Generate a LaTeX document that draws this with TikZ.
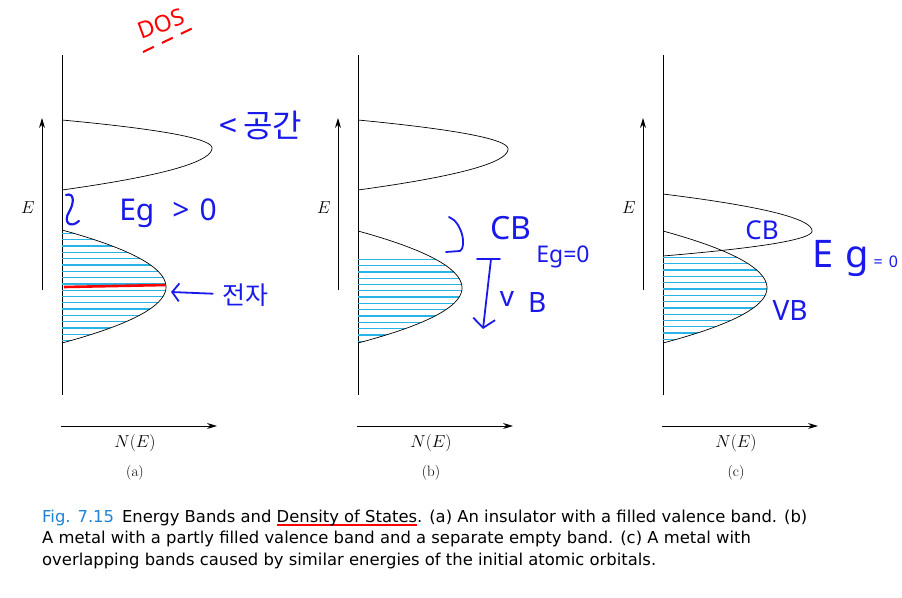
\documentclass[tikz,border=0pt]{standalone}
\usepackage{fontspec}
\usepackage{tikz}
\usetikzlibrary{arrows.meta,positioning}
\newfontfamily\capfont{DejaVu Sans}
\newfontfamily\krfont{Noto Sans CJK KR}
\newfontfamily\handfont{Noto Sans}
\definecolor{handblue}{RGB}{25,25,235}
\definecolor{figblue}{RGB}{30,130,215}
\definecolor{fillcyan}{RGB}{40,180,230}
\newsavebox{\ulbox}
\newcommand{\redul}[1]{\sbox{\ulbox}{#1}\rlap{\color{red}\rule[-3.5pt]{\wd\ulbox}{1.3pt}}\usebox{\ulbox}}
\newcommand{\bandpath}[5]{plot[domain=-1:0,samples=30] ({#1+#5*(1-(\x)*(\x))},{#3+(\x)*(#3-#2)}) -- plot[domain=0:1,samples=30] ({#1+#5*(1-(\x)*(\x))},{#3+(\x)*(#4-#3)})}

\begin{document}
\begin{tikzpicture}[x=1pt,y=-1pt]
        \tikzstyle{every node} = [inner sep=0pt]
        \tikzstyle{axis} = [line width=1pt]
        \tikzstyle{arr} = [axis, -{Stealth[length=10pt,width=6pt]}]
        \tikzstyle{band} = [line width=0.7pt]
        \tikzstyle{level} = [fillcyan, line width=1.3pt]
        \tikzstyle{hand} = [handblue, line width=1.8pt, line cap=round, line join=round]
        \tikzstyle{note} = [handblue, font=\handfont\fontsize{28}{28}\selectfont]
        \tikzstyle{kr} = [handblue, font=\krfont\fontsize{32}{32}\selectfont]
        \tikzstyle{captext} = [anchor=base west, font=\capfont\fontsize{16.4}{16.4}\selectfont]
        \useasboundingbox (0,0) rectangle (902,597);

        \foreach \p/\xo in {a/62, b/358, c/663} {
            \draw[axis] (\xo,55) -- (\xo,395);
            \node[font=\fontsize{17}{17}\selectfont] (\p E) at (\xo-34,208) {$E$};
            \coordinate (\p E0) at (\xo-20,290);
            \coordinate (\p E1) at (\xo-20,118);
            \draw[arr] (\p E0) -- (\p E1);
            \coordinate (\p N0) at (\xo-1,426);
            \coordinate (\p N1) at (\xo+155,426);
            \draw[arr] (\p N0) -- (\p N1);
            \node[font=\fontsize{17}{17}\selectfont] (\p N) at (\xo+73,443) {$N(E)$};
            \node[below=13pt of \p N, font=\fontsize{15}{15}\selectfont] (\p lab) {(\p)};
        }

        \begin{scope}
            \clip \bandpath{62}{230}{287}{343}{104} -- cycle;
            \foreach \y in {233.5,239.8,...,343} \draw[level] (62,\y) -- (170,\y);
        \end{scope}
        \begin{scope}
            \clip \bandpath{358}{231}{288}{343}{104} -- cycle;
            \foreach \y in {259.3,265.6,...,343} \draw[level] (358,\y) -- (466,\y);
        \end{scope}
        \begin{scope}
            \clip \bandpath{663}{231}{288}{343}{104} -- cycle;
            \foreach \y in {257.5,263.8,...,343} \draw[level] (663,\y) -- (771,\y);
        \end{scope}

        \draw[band] \bandpath{62}{120}{148}{190}{150};
        \draw[band] \bandpath{62}{230}{287}{343}{104};
        \draw[band] \bandpath{358}{120}{149}{190}{150};
        \draw[band] \bandpath{358}{231}{288}{343}{104};
        \draw[band] \bandpath{663}{194}{231}{256}{149};
        \draw[band] \bandpath{663}{231}{288}{343}{104};

        \coordinate (r0) at (64,287);
        \coordinate (r1) at (166,285);
        \draw[red, line width=2.6pt] (r0) -- (r1);

        \node[red, rotate=20, font=\handfont\fontsize{23}{23}\selectfont] (dos) at (161,24) {DOS};
        \coordinate (dos0) at (143,52);
        \coordinate (dos1) at (193,28);
        \draw[red, line width=2pt, dash pattern=on 12pt off 9pt] (dos0) -- (dos1);

        \node[kr] (empty) at (261,125) {<\hspace{6pt}공간};
        \coordinate (atip) at (171,292);
        \node[kr, font=\krfont\fontsize{25}{25}\selectfont] (elec) at (245,295) {전자};
        \draw[hand, shorten <=9pt, -{Straight Barb[length=7pt,width=18pt]}] (elec) -- (atip);
        \draw[hand, line width=2.2pt] (66,195) .. controls (75,192) and (74,204) .. (69,212) .. controls (63,222) and (70,229) .. (79,221);
        \node[note, font=\handfont\fontsize{30}{30}\selectfont] (ega) at (168,213) {Eg\hspace{18pt}>\hspace{10pt}0};

        \draw[hand] (449,217) .. controls (462,222) and (467,247) .. (460,251) -- (446,252);
        \node[note, font=\handfont\fontsize{32}{32}\selectfont] (cbb) at (511,228) {CB};
        \node[note, font=\handfont\fontsize{23}{23}\selectfont] (egb) at (563,257) {Eg=0};
        \coordinate (bar0) at (477,259);
        \coordinate (bar1) at (500,259);
        \draw[hand] (bar0) -- (bar1);
        \coordinate (vb0) at (491,259);
        \coordinate (vb1) at (483,329);
        \draw[hand, -{Straight Barb[length=9pt,width=22pt]}] (vb0) -- (vb1);
        \node[note] (vbb) at (523,302) {\raisebox{6pt}{v}\hspace{14pt}B};

        \node[note, font=\handfont\fontsize{26}{26}\selectfont] (cbc) at (762,230) {CB};
        \node[note, anchor=base west, font=\handfont\fontsize{38}{38}\selectfont] (egc) at (812,267) {E\hspace{12pt}g\hspace{5pt}{\fontsize{16}{16}\selectfont=\hspace{6pt}0}};
        \node[note] (vbc) at (790,310) {VB};

        \node[captext] (cap1) at (42,522) {\textcolor{figblue}{Fig. 7.15}\hspace{8pt}Energy Bands and \redul{Density of States}. (a) An insulator with a filled valence band. (b)};
        \node[captext] (cap2) at ([yshift=-21.5pt]cap1.base west) {A metal with a partly filled valence band and a separate empty band. (c) A metal with};
        \node[captext] (cap3) at ([yshift=-21.5pt]cap2.base west) {overlapping bands caused by similar energies of the initial atomic orbitals.};
\end{tikzpicture}
\end{document}
